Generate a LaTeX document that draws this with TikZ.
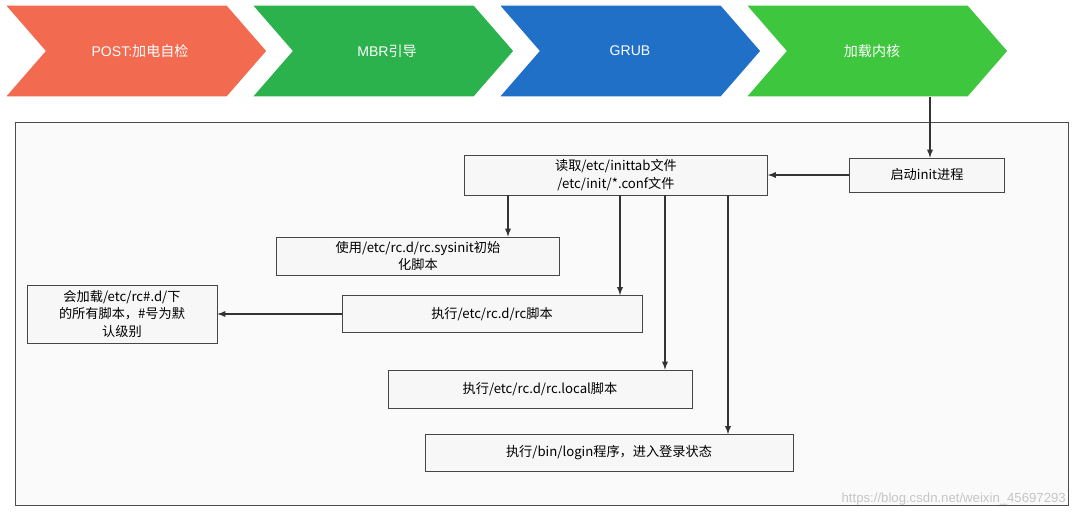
\documentclass[tikz,border=0pt]{standalone}
\usepackage{fontspec}
\setmainfont{Liberation Sans}
\newfontfamily\cjk{Noto Sans CJK SC}
\usetikzlibrary{positioning}
\definecolor{postred}{HTML}{F26A50}
\definecolor{mbrgreen}{HTML}{2BB24C}
\definecolor{grubblue}{HTML}{2070C8}
\definecolor{kerngreen}{HTML}{3EC63E}
\tikzset{
  stepbox/.style={draw=gray!55!black, fill=gray!6, inner sep=0pt, font=\cjk\fontsize{7.5}{10}\selectfont, align=center},
  chev/.style={draw=white, line width=0.6pt},
  flow/.style={->, >=latex, draw=gray!40!black, line width=0.6pt}
}
\begin{document}
\begin{tikzpicture}[x=0.02cm, y=-0.02cm]
        \useasboundingbox (0,0) rectangle (1080,519);
        % chevrons
        \foreach \c/\x in {postred/5, mbrgreen/252, grubblue/499, kerngreen/746}
            \filldraw[chev, fill=\c] (\x,5) -- (\x+222,5) -- (\x+262,51) -- (\x+222,97) -- (\x,97) -- (\x+40,51) -- cycle;
        \node[font=\fontsize{8}{10}\selectfont, white] (post) at (140,51) {POST:\cjk 加电自检};
        \node[font=\fontsize{8}{10}\selectfont, white] (mbr) at (387,51) {MBR\cjk 引导};
        \node[font=\fontsize{8}{10}\selectfont, white] (grub) at (630,51) {GRUB};
        \node[font=\cjk\fontsize{8}{10}\selectfont, white] (kern) at (872,51) {加载内核};
        \coordinate (kernout) at (930,97);
        % frame
        \draw[gray!60!black, fill=gray!4] (15,122) rectangle (1068,505);
        \node[stepbox, minimum width=155*0.02cm, minimum height=34*0.02cm] (init) at (927,175) {启动init进程};
        \node[stepbox, minimum width=303*0.02cm, minimum height=40*0.02cm] (read) at (616,175) {读取/etc/inittab文件\\/etc/init/*.conf文件};
        \node[stepbox, minimum width=283*0.02cm, minimum height=38*0.02cm] (sysinit) at (418,256) {使用/etc/rc.d/rc.sysinit初始\\化脚本};
        \node[stepbox, minimum width=300*0.02cm, minimum height=37*0.02cm] (rc) at (492,314) {执行/etc/rc.d/rc脚本};
        \node[stepbox, minimum width=190*0.02cm, minimum height=58*0.02cm] (runlvl) at (122,314) {会加载/etc/rc\#.d/下\\的所有脚本，\#号为默\\认级别};
        \node[stepbox, minimum width=304*0.02cm, minimum height=38*0.02cm] (local) at (540,389) {执行/etc/rc.d/rc.local脚本};
        \node[stepbox, minimum width=368*0.02cm, minimum height=37*0.02cm] (login) at (609,453) {执行/bin/login程序，进入登录状态};
        % arrows
        \draw[flow] (kernout) -- (init.north -| kernout);
        \draw[flow] (init) -- (read);
        \draw[flow] (read.south -| 508,0) -- (sysinit.north -| 508,0);
        \draw[flow] (read.south -| 620,0) -- (rc.north -| 620,0);
        \draw[flow] (read.south -| 665,0) -- (local.north -| 665,0);
        \draw[flow] (read.south -| 728,0) -- (login.north -| 728,0);
        \draw[flow] (rc) -- (runlvl);
        \node[gray!45, font=\fontsize{7.5}{9}\selectfont, anchor=east] (mark) at (1072,499) {https://blog.csdn.net/weixin\_45697293};
\end{tikzpicture}
\end{document}
